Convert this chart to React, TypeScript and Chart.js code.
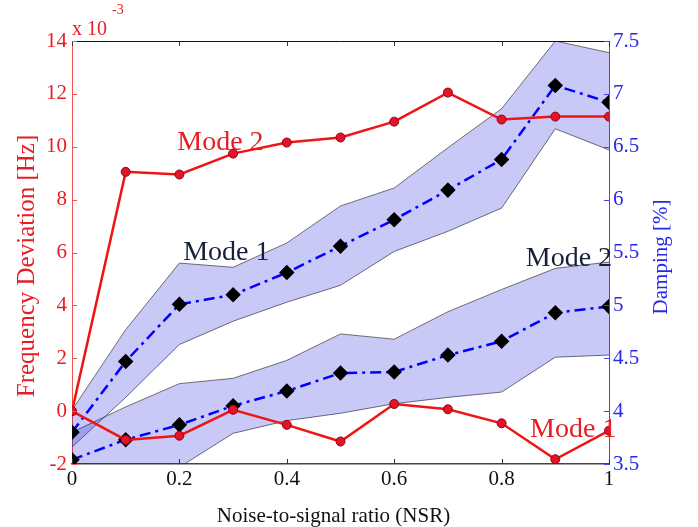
import React, { useEffect, useRef } from "react";
import { Chart, registerables } from "chart.js";

Chart.register(...registerables);

// ---- data ----
const nsr = [0, 0.1, 0.2, 0.3, 0.4, 0.5, 0.6, 0.7, 0.8, 0.9, 1.0];
// frequency deviation, in units of 1e-3 Hz (left axis)
const freqMode2 = [0, 9.05, 8.95, 9.74, 10.16, 10.35, 10.95, 12.05, 11.03, 11.14, 11.14];
const freqMode1 = [0, -1.09, -0.93, 0.05, -0.52, -1.15, 0.27, 0.07, -0.46, -1.82, -0.74];
// damping [%] (right axis)
const dampMode1 = [3.8, 4.47, 5.01, 5.1, 5.31, 5.56, 5.81, 6.09, 6.38, 7.08, 6.92];
const dampMode1Upper = [4.01, 4.77, 5.4, 5.36, 5.59, 5.94, 6.11, 6.49, 6.86, 7.5, 7.39];
const dampMode1Lower = [3.66, 4.13, 4.63, 4.85, 5.03, 5.19, 5.51, 5.7, 5.92, 6.67, 6.47];
const dampMode2 = [3.54, 3.73, 3.87, 4.05, 4.19, 4.36, 4.37, 4.53, 4.66, 4.93, 4.99];
const dampMode2Upper = [3.8, 4.04, 4.26, 4.31, 4.48, 4.73, 4.68, 4.94, 5.15, 5.35, 5.41];
const dampMode2Lower = [3.2, 3.32, 3.47, 3.79, 3.91, 3.98, 4.07, 4.13, 4.18, 4.51, 4.53];

const xTicks = [0, 0.2, 0.4, 0.6, 0.8, 1];
const leftTicks = [-2, 0, 2, 4, 6, 8, 10, 12, 14];
const rightTicks = [3.5, 4, 4.5, 5, 5.5, 6, 6.5, 7, 7.5];

const xTitle = "Noise-to-signal ratio (NSR)";
const leftTitle = "Frequency Deviation [Hz]";
const rightTitle = "Damping [%]";

const SERIF = "'Liberation Serif', 'Times New Roman', serif";
const RED = "rgb(240,20,20)";
const RED_TEXT = "rgb(232,28,36)";
const BLUE = "rgb(0,0,255)";
const BLUE_TEXT = "rgb(40,40,235)";
const NAVY = "rgb(22,32,58)";
const BAND = "rgba(0,0,215,0.21)";
const BAND_EDGE = "rgba(60,60,60,0.9)";

const pts = (ys: number[]) => nsr.map((x, i) => ({ x, y: ys[i] }));
const fmt = (v: number) => String(+Number(v).toFixed(2));

const overlay = {
  id: "overlay",
  afterDraw(chart: any) {
    const { ctx, chartArea: a, scales } = chart;
    const sx = scales.x;
    const yl = scales.y;
    const yr = scales.y1;
    const line = (x1: number, y1: number, x2: number, y2: number) => {
      ctx.beginPath();
      ctx.moveTo(x1, y1);
      ctx.lineTo(x2, y2);
      ctx.stroke();
    };
    ctx.save();
    // top border
    ctx.strokeStyle = "#111";
    ctx.lineWidth = 1;
    line(a.left, a.top + 0.5, a.right, a.top + 0.5);
    // inward ticks on x
    ctx.strokeStyle = "#333";
    xTicks.forEach((v) => {
      const px = Math.round(sx.getPixelForValue(v)) + 0.5;
      line(px, a.bottom, px, a.bottom - 5);
      line(px, a.top, px, a.top + 5);
    });
    // inward ticks on left
    ctx.strokeStyle = "rgb(245,80,80)";
    leftTicks.forEach((v) => {
      const py = Math.round(yl.getPixelForValue(v)) + 0.5;
      line(a.left, py, a.left + 5, py);
    });
    // inward ticks on right
    ctx.strokeStyle = "rgb(70,70,245)";
    rightTicks.forEach((v) => {
      const py = Math.round(yr.getPixelForValue(v)) + 0.5;
      line(a.right, py, a.right - 5, py);
    });

    // annotations
    ctx.textBaseline = "alphabetic";
    ctx.textAlign = "left";
    const label = (t: string, x: number, y: number, color: string, size: number) => {
      ctx.fillStyle = color;
      ctx.font = `${size}px ${SERIF}`;
      ctx.fillText(t, x, y);
    };
    label("Mode 2", sx.getPixelForValue(0.196), yl.getPixelForValue(9.89), RED_TEXT, 28);
    label("Mode 1", sx.getPixelForValue(0.207), yr.getPixelForValue(5.43), NAVY, 28);
    label("Mode 2", sx.getPixelForValue(0.845), yr.getPixelForValue(5.37), NAVY, 28);
    label("Mode 1", sx.getPixelForValue(0.853), yl.getPixelForValue(-0.98), RED_TEXT, 28);

    // exponent
    label("x 10", a.left, a.top - 6, RED_TEXT, 20);
    label("-3", a.left + 40, a.top - 27, RED_TEXT, 14);

    // axis titles
    ctx.textAlign = "center";
    ctx.fillStyle = "#111";
    ctx.font = `21px ${SERIF}`;
    ctx.fillText(xTitle, (a.left + a.right) / 2 - 7, 522);

    ctx.textBaseline = "middle";
    ctx.save();
    ctx.translate(27, 266);
    ctx.rotate(-Math.PI / 2);
    ctx.fillStyle = RED_TEXT;
    ctx.font = `25px ${SERIF}`;
    ctx.fillText(leftTitle, 0, 0);
    ctx.restore();

    ctx.save();
    ctx.translate(661, 257);
    ctx.rotate(-Math.PI / 2);
    ctx.fillStyle = BLUE_TEXT;
    ctx.font = `21px ${SERIF}`;
    ctx.fillText(rightTitle, 0, 0);
    ctx.restore();

    ctx.restore();
  },
};

export default function App() {
  const ref = useRef<HTMLCanvasElement | null>(null);

  useEffect(() => {
    if (!ref.current) return;
    const bandCommon = {
      borderColor: BAND_EDGE,
      borderWidth: 0.8,
      pointRadius: 0,
      tension: 0,
      yAxisID: "y1",
      order: 10,
    };
    const chart = new Chart(ref.current, {
      type: "line",
      data: {
        datasets: [
          // 0,1: Mode 1 damping band
          { ...bandCommon, label: "m1u", data: pts(dampMode1Upper), fill: "+1", backgroundColor: BAND },
          { ...bandCommon, label: "m1l", data: pts(dampMode1Lower), fill: false },
          // 2,3: Mode 2 damping band
          { ...bandCommon, label: "m2u", data: pts(dampMode2Upper), fill: "+1", backgroundColor: BAND },
          { ...bandCommon, label: "m2l", data: pts(dampMode2Lower), fill: false },
          // damping means
          {
            label: "Damping Mode 1",
            data: pts(dampMode1),
            yAxisID: "y1",
            borderColor: BLUE,
            borderWidth: 2.5,
            borderDash: [11, 5, 3, 5],
            pointStyle: "rectRot",
            pointRadius: 6,
            pointBackgroundColor: "#000",
            pointBorderColor: "#000",
            fill: false,
            order: 2,
          },
          {
            label: "Damping Mode 2",
            data: pts(dampMode2),
            yAxisID: "y1",
            borderColor: BLUE,
            borderWidth: 2.5,
            borderDash: [11, 5, 3, 5],
            pointStyle: "rectRot",
            pointRadius: 6,
            pointBackgroundColor: "#000",
            pointBorderColor: "#000",
            fill: false,
            order: 2,
          },
          // frequency deviation
          {
            label: "Freq Mode 2",
            data: pts(freqMode2),
            yAxisID: "y",
            borderColor: RED,
            borderWidth: 2.5,
            pointStyle: "circle",
            pointRadius: 4.5,
            pointBackgroundColor: "rgb(225,20,40)",
            pointBorderColor: "rgb(150,0,20)",
            pointBorderWidth: 1,
            fill: false,
            order: 1,
          },
          {
            label: "Freq Mode 1",
            data: pts(freqMode1),
            yAxisID: "y",
            borderColor: RED,
            borderWidth: 2.5,
            pointStyle: "circle",
            pointRadius: 4.5,
            pointBackgroundColor: "rgb(225,20,40)",
            pointBorderColor: "rgb(150,0,20)",
            pointBorderWidth: 1,
            fill: false,
            order: 1,
          },
        ],
      },
      options: {
        animation: false,
        responsive: true,
        maintainAspectRatio: false,
        layout: { padding: { top: 41, left: 0, right: 0, bottom: 0 } },
        plugins: {
          legend: { display: false },
          tooltip: { enabled: false },
          title: { display: false },
        },
        scales: {
          x: {
            type: "linear",
            min: 0,
            max: 1,
            afterBuildTicks: (s: any) => {
              s.ticks = xTicks.map((v) => ({ value: v }));
            },
            afterFit: (s: any) => {
              s.height = 63;
            },
            grid: { display: false, drawTicks: false },
            border: { display: true, color: "#444", width: 1.5 },
            ticks: {
              color: "#111",
              padding: 3,
              maxRotation: 0,
              autoSkip: false,
              font: { family: SERIF, size: 21 },
              callback: (v: any) => fmt(v),
            },
          },
          y: {
            type: "linear",
            position: "left",
            min: -2,
            max: 14,
            afterBuildTicks: (s: any) => {
              s.ticks = leftTicks.map((v) => ({ value: v }));
            },
            afterFit: (s: any) => {
              s.width = 72;
            },
            grid: { display: false, drawTicks: false },
            border: { display: true, color: "rgb(245,80,80)", width: 1 },
            ticks: {
              color: RED_TEXT,
              padding: 5,
              autoSkip: false,
              font: { family: SERIF, size: 21 },
              callback: (v: any) => fmt(v),
            },
          },
          y1: {
            type: "linear",
            position: "right",
            min: 3.5,
            max: 7.5,
            afterBuildTicks: (s: any) => {
              s.ticks = rightTicks.map((v) => ({ value: v }));
            },
            afterFit: (s: any) => {
              s.width = 89;
            },
            grid: { display: false, drawTicks: false },
            border: { display: true, color: "rgb(70,70,245)", width: 1 },
            ticks: {
              color: BLUE_TEXT,
              padding: 4,
              autoSkip: false,
              font: { family: SERIF, size: 21 },
              callback: (v: any) => fmt(v),
            },
          },
        },
      },
      plugins: [overlay],
    } as any);
    return () => chart.destroy();
  }, []);

  return (
    <div style={{ position: "fixed", left: 0, top: 0, width: 698, height: 527, background: "#fff" }}>
      <canvas ref={ref} />
    </div>
  );
}
